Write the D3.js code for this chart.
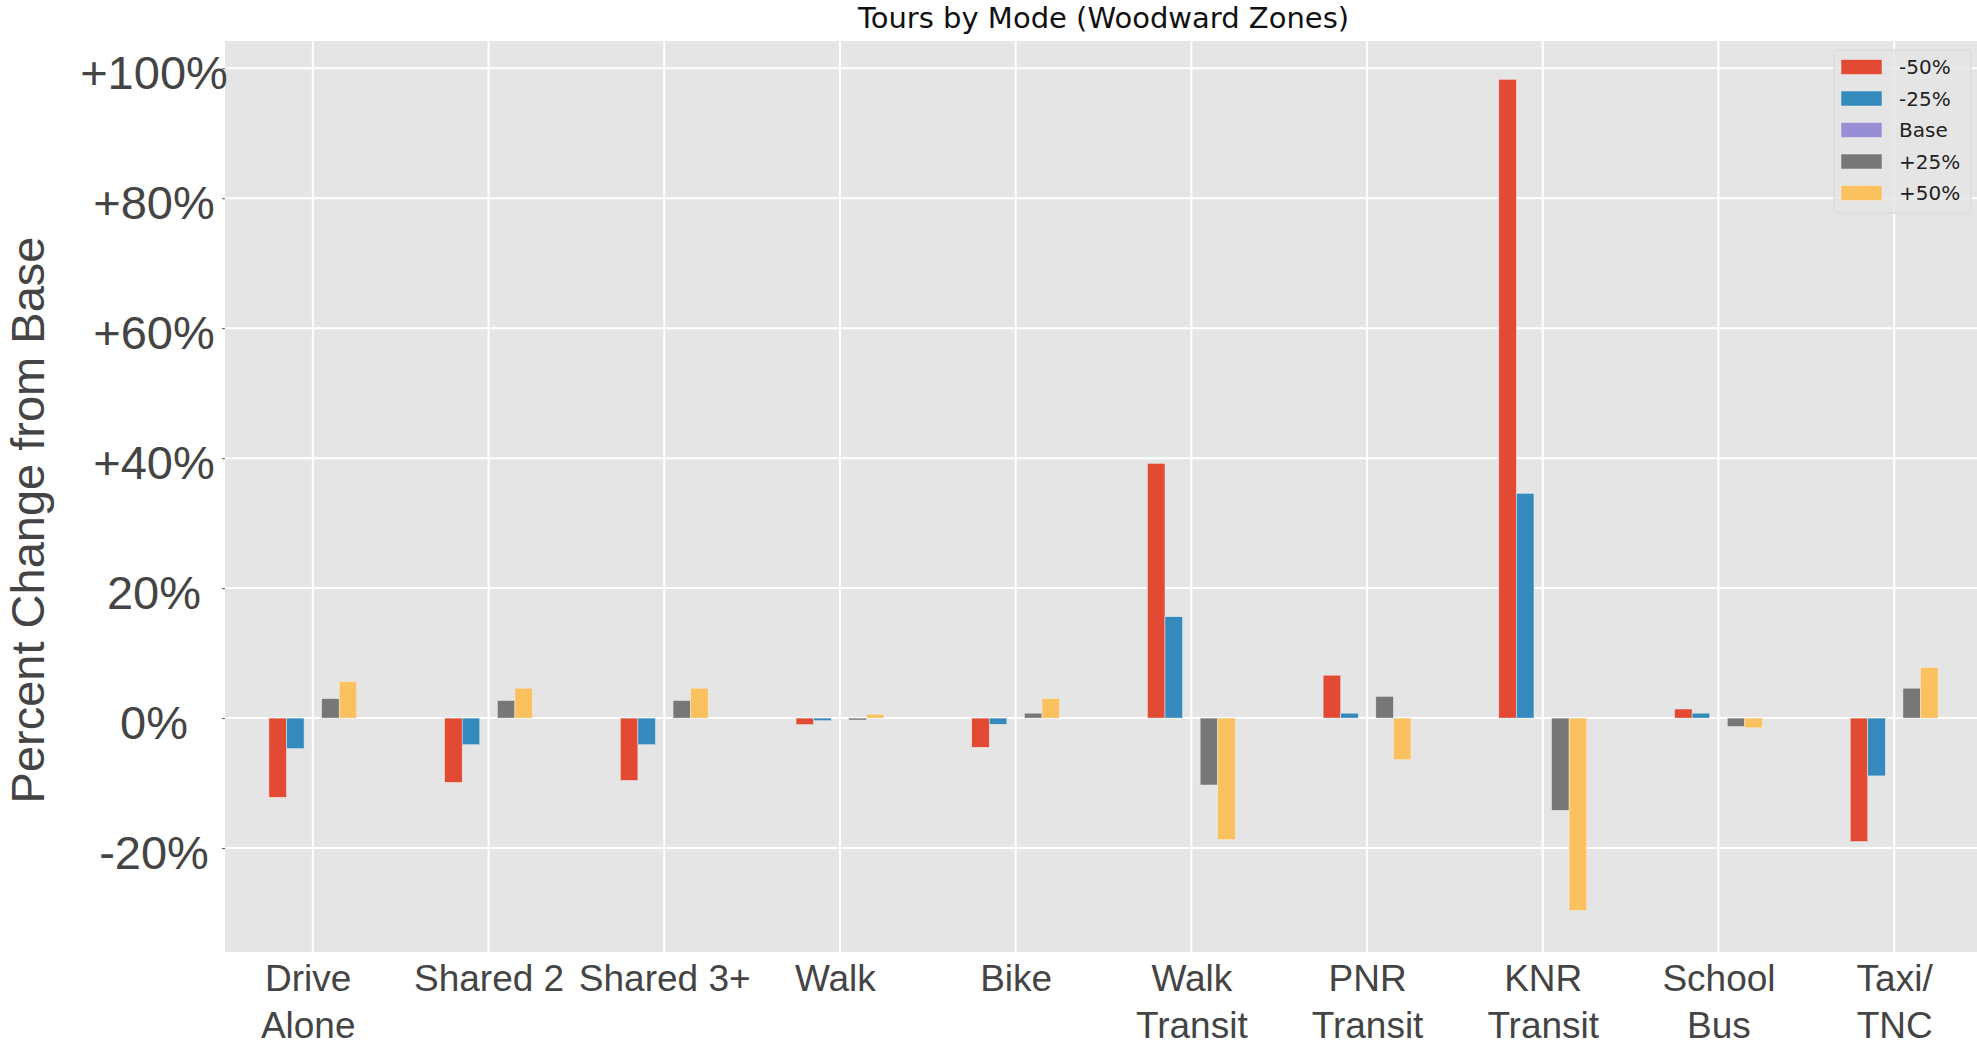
<!DOCTYPE html>
<html>
<head>
<meta charset="utf-8">
<script src="https://cdn.jsdelivr.net/npm/d3@7"></script>
<style>
  html, body { margin: 0; padding: 0; background: #fff; }
  svg { display: block; }
</style>
</head>
<body>
<svg id="chart" width="1977" height="1045"></svg>
<script>
// modes along the x axis (second line after \n); trailing spaces kept as in the source labels
const modes = ['Drive \nAlone ', 'Shared 2', 'Shared 3+', 'Walk ', 'Bike', 'Walk\nTransit',
  'PNR\nTransit', 'KNR\nTransit', 'School\nBus', 'Taxi/\nTNC'];

const seriesNames = ['-50%', '-25%', 'Base', '+25%', '+50%'];
const seriesColors = ['#E24A33', '#348ABD', '#988ED5', '#777777', '#FBC15E'];

// percent change from base
const minus50 = [-12.2, -9.9, -9.6, -1.0, -4.5, 39.2, 6.6, 98.3, 1.4, -19.0];
const minus25 = [-4.7, -4.1, -4.1, -0.4, -0.95, 15.6, 0.76, 34.6, 0.76, -8.9];
const base = [0, 0, 0, 0, 0, 0, 0, 0, 0, 0];
const plus25 = [3.0, 2.7, 2.7, -0.3, 0.76, -10.3, 3.35, -14.2, -1.3, 4.6];
const plus50 = [5.6, 4.6, 4.6, 0.6, 3.0, -18.7, -6.4, -29.6, -1.5, 7.8];

const yTicks = [-20, 0, 20, 40, 60, 80, 100];
const yTickLabels = ['-20%', '0%', '20%', '+40%', '+60%', '+80%', '+100%'];

const seriesValues = [minus50, minus25, base, plus25, plus50];

const plot = { left: 225, right: 1982, top: 41, bottom: 952 };
const svg = d3.select('#chart');

const x = d3.scaleLinear().domain([-0.5, modes.length - 0.5]).range([plot.left, plot.right]);
const y = d3.scaleLinear().domain([-36.0, 104.2]).range([plot.bottom, plot.top]);
// pandas-style grouping: total width 0.5 around each tick
const xSub = d3.scaleBand().domain(seriesNames).range([-0.25, 0.25]);
const barW = x(xSub.bandwidth()) - x(0);

// background
svg.append('rect')
  .attr('x', plot.left).attr('y', plot.top)
  .attr('width', plot.right - plot.left).attr('height', plot.bottom - plot.top)
  .attr('fill', '#E5E5E5');

// grid
const grid = svg.append('g');
grid.selectAll('line.h').data(yTicks).join('line')
  .attr('x1', plot.left).attr('x2', plot.right)
  .attr('y1', d => y(d)).attr('y2', d => y(d))
  .attr('stroke', '#fff').attr('stroke-width', 2);
grid.selectAll('line.v').data(d3.range(modes.length)).join('line')
  .attr('y1', plot.top).attr('y2', plot.bottom)
  .attr('x1', d => x(d)).attr('x2', d => x(d))
  .attr('stroke', '#fff').attr('stroke-width', 2);

// bars
seriesNames.forEach((name, s) => {
  svg.append('g').selectAll('rect').data(seriesValues[s]).join('rect')
    .attr('x', (d, i) => x(i + xSub(name)))
    .attr('width', barW)
    .attr('y', d => y(Math.max(0, d)))
    .attr('height', d => Math.abs(y(d) - y(0)))
    .attr('fill', seriesColors[s])
    .attr('stroke', d => d === 0 ? 'none' : '#EEEEEE')
    .attr('stroke-width', 0.5);
});

// y axis
const yAxis = svg.append('g')
  .attr('transform', `translate(${plot.left},0)`)
  .call(d3.axisLeft(y).tickValues(yTicks).tickSize(3).tickFormat((d, i) => yTickLabels[i]));
yAxis.select('.domain').remove();
yAxis.selectAll('.tick line').attr('stroke', '#555');
yAxis.selectAll('.tick text')
  .attr('x', -71).attr('dy', 20)
  .attr('text-anchor', 'middle')
  .attr('fill', '#444')
  .style('font-family', '"Liberation Sans", Arial, sans-serif')
  .style('font-size', '47px');

// x axis, labels on two lines
const xAxis = svg.append('g')
  .attr('transform', `translate(0,${plot.bottom})`)
  .call(d3.axisBottom(x).tickValues(d3.range(modes.length)).tickSize(0).tickFormat(''));
xAxis.select('.domain').remove();
xAxis.selectAll('.tick').each(function (d) {
  const t = d3.select(this).append('text')
    .attr('text-anchor', 'middle')
    .attr('fill', '#444')
    .style('white-space', 'pre')
    .style('font-family', '"Liberation Sans", Arial, sans-serif')
    .style('font-size', '37px');
  modes[d].split('\n').forEach((line, k) => {
    t.append('tspan').attr('x', 0).attr('y', 39 + k * 47).text(line);
  });
});

// y axis title
svg.append('text')
  .attr('transform', `translate(44,520) rotate(-90)`)
  .attr('text-anchor', 'middle')
  .attr('fill', '#444')
  .style('font-family', '"Liberation Sans", Arial, sans-serif')
  .style('font-size', '47px')
  .text('Percent Change from Base');

// title
svg.append('text')
  .attr('x', (plot.left + plot.right) / 2).attr('y', 28)
  .attr('text-anchor', 'middle')
  .attr('fill', '#111')
  .style('font-family', '"DejaVu Sans", sans-serif')
  .style('font-size', '29px')
  .text('Tours by Mode (Woodward Zones)');

// legend
const legend = svg.append('g');
legend.append('rect')
  .attr('x', 1834).attr('y', 50).attr('width', 137).attr('height', 163)
  .attr('rx', 4)
  .attr('fill', '#E5E5E5').attr('fill-opacity', 0.8)
  .attr('stroke', '#dcdcdc').attr('stroke-width', 1.5);
const item = legend.selectAll('g.item').data(seriesNames).join('g')
  .attr('transform', (d, i) => `translate(1841,${67 + i * 31.5})`);
item.append('rect')
  .attr('x', 0).attr('y', -7.5).attr('width', 41).attr('height', 15)
  .attr('fill', (d, i) => seriesColors[i])
  .attr('stroke', '#EEEEEE').attr('stroke-width', 0.5);
item.append('text')
  .attr('x', 58).attr('dy', '0.35em')
  .attr('fill', '#222')
  .style('font-family', '"DejaVu Sans", sans-serif')
  .style('font-size', '20px')
  .text(d => d);
</script>
</body>
</html>
